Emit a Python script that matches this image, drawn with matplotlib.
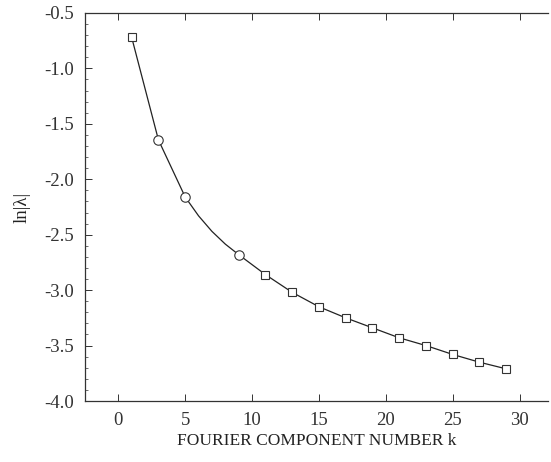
import numpy as np
import matplotlib.pyplot as plt
from matplotlib.ticker import MultipleLocator

# curve values (k=6,7,8 have no marker, only the line passes them)
k_line = [1, 3, 5, 6, 7, 8, 9, 11, 13, 15, 17, 19, 21, 23, 25, 27, 29]
ln_line = [-0.72, -1.645, -2.16, -2.33, -2.47, -2.585, -2.68, -2.86, -3.02, -3.15,
           -3.25, -3.34, -3.43, -3.50, -3.58, -3.65, -3.71]

k_circ = [3, 5, 9]
ln_circ = [-1.645, -2.16, -2.68]

k_sq = [1, 11, 13, 15, 17, 19, 21, 23, 25, 27, 29]
ln_sq = [-0.72, -2.86, -3.02, -3.15, -3.25, -3.34, -3.43, -3.50, -3.58, -3.65, -3.71]

xticks = [0, 5, 10, 15, 20, 25, 30]
yticks = [-0.5, -1.0, -1.5, -2.0, -2.5, -3.0, -3.5, -4.0]

plt.rcParams['font.family'] = 'Liberation Serif'
plt.rcParams['axes.unicode_minus'] = False

fig = plt.figure(figsize=(5.51, 4.62), dpi=100)
ax = fig.add_axes([0.154, 0.132, 0.84, 0.840])

ax.plot(k_line, ln_line, color='#222222', lw=0.9)
ax.plot(k_sq, ln_sq, ls='none', marker='s', ms=5.2, mfc='white', mec='#333333', mew=0.8)
ax.plot(k_circ, ln_circ, ls='none', marker='o', ms=6.8, mfc='white', mec='#333333', mew=0.8)

ax.set_xlim(-2.5, 32.1)
ax.set_ylim(-4.0, -0.5)
ax.set_xticks(xticks)
ax.set_yticks(yticks)
ax.set_yticklabels(['%.1f' % v for v in yticks])
ax.yaxis.set_minor_locator(MultipleLocator(0.1))

ax.spines['right'].set_visible(False)
for s in ['left', 'top', 'bottom']:
    ax.spines[s].set_linewidth(0.9)
    ax.spines[s].set_color('#333333')

ax.tick_params(which='both', direction='in', top=True, right=False,
               labelsize=13.5, colors='#333333', pad=8)
ax.tick_params(which='major', length=5, width=0.7)
ax.tick_params(which='minor', length=2, width=0.5)

ax.set_xlabel('FOURIER COMPONENT NUMBER k', fontsize=12.5, labelpad=3, color='#222222')
ax.set_ylabel('ln|λ|', fontsize=13.5, labelpad=10, color='#222222')

fig.savefig('out.png', dpi=100)
